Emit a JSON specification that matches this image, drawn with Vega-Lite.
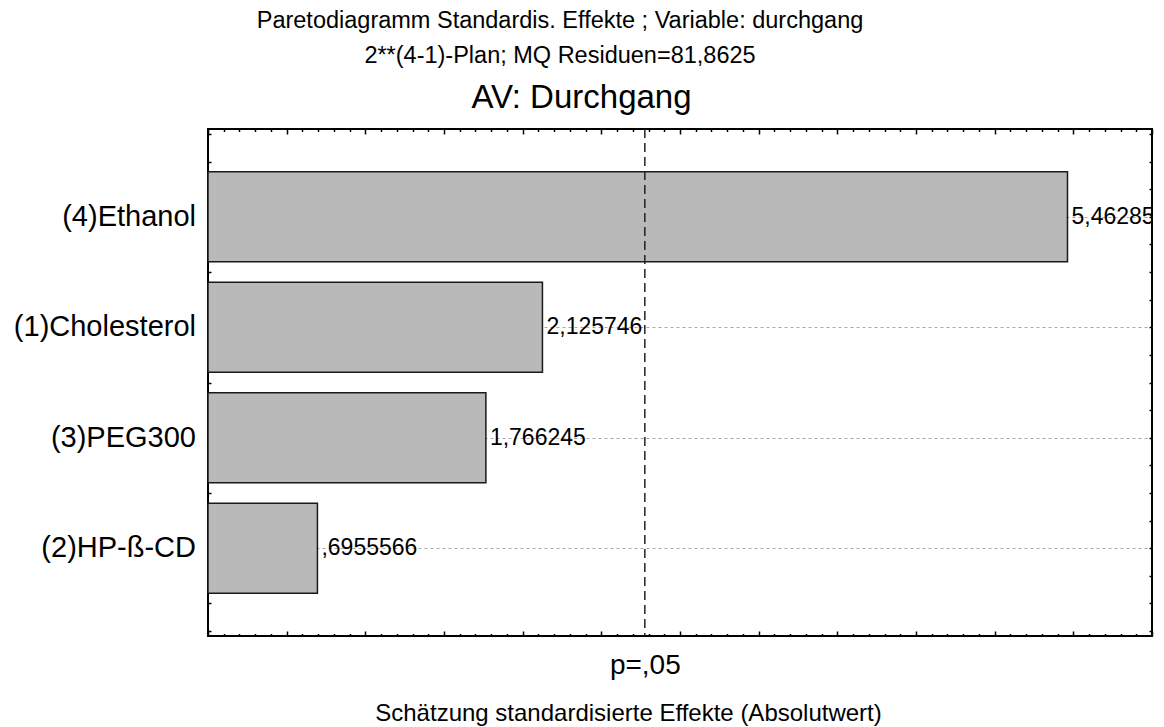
{
  "$schema": "https://vega.github.io/schema/vega-lite/v6.json",
  "width": 944,
  "height": 507,
  "autosize": {"type": "none"},
  "padding": {"left": 208, "top": 129, "right": 12, "bottom": 91},
  "background": "white",
  "datasets": {
    "effekte": [
      {"Effekt": "(4)Ethanol", "Wert": 5.46285, "Label": "5,46285"},
      {"Effekt": "(1)Cholesterol", "Wert": 2.125746, "Label": "2,125746"},
      {"Effekt": "(3)PEG300", "Wert": 1.766245, "Label": "1,766245"},
      {"Effekt": "(2)HP-ß-CD", "Wert": 0.6955566, "Label": ",6955566"}
    ],
    "grenze": [{"p_Grenze": 2.776445}]
  },
  "title": {
    "text": ["Paretodiagramm Standardis. Effekte ; Variable: durchgang", "2**(4-1)-Plan; MQ Residuen=81,8625"],
    "font": "Liberation Sans",
    "fontSize": 23.5,
    "fontWeight": "normal",
    "color": "#000000",
    "lineHeight": 35,
    "anchor": "middle",
    "frame": "group",
    "dx": -120,
    "offset": 14
  },
  "layer": [
    {
      "data": {"name": "effekte"},
      "transform": [{"window": [{"op": "row_number", "as": "Rang"}], "sort": [{"field": "Wert", "order": "descending"}]}],
      "mark": {"type": "bar", "orient": "horizontal", "height": 90, "fill": "#b9b9b9", "stroke": "#1a1a1a", "strokeWidth": 1.5},
      "encoding": {
        "x": {
          "field": "Wert", "type": "quantitative",
          "scale": {"domain": [0, 6], "nice": false, "zero": true},
          "axis": {
            "orient": "bottom",
            "values": [0,0.1,0.2,0.3,0.4,0.5,0.6,0.7,0.8,0.9,1,1.1,1.2,1.3,1.4,1.5,1.6,1.7,1.8,1.9,2,2.1,2.2,2.3,2.4,2.5,2.6,2.7,2.776445,2.8,2.9,3,3.1,3.2,3.3,3.4,3.5,3.6,3.7,3.8,3.9,4,4.1,4.2,4.3,4.4,4.5,4.6,4.7,4.8,4.9,5,5.1,5.2,5.3,5.4,5.5,5.6,5.7,5.8,5.9,6],
            "labelExpr": "abs(datum.value - 2.776445) < 0.0001 ? 'p=,05' : ''",
            "labelOverlap": false,
            "labelBound": false,
            "labelFlush": false,
            "labelFont": "Liberation Sans",
            "labelFontSize": 28,
            "labelColor": "#000000",
            "labelBaseline": "alphabetic",
            "labelPadding": 40,
            "domain": false,
            "grid": false,
            "tickColor": "#000000",
            "tickWidth": 1.5,
            "tickSize": {"condition": {"test": "abs(datum.value*2 - round(datum.value*2)) < 0.001", "value": -5}, "value": -2.5},
            "tickOpacity": {"condition": {"test": "abs(datum.value - 2.776445) < 0.0001", "value": 0}, "value": 1},
            "title": "Schätzung standardisierte Effekte (Absolutwert)",
            "titleFont": "Liberation Sans",
            "titleFontSize": 24,
            "titleFontWeight": "normal",
            "titleColor": "#000000",
            "titleX": 420,
            "titleY": 84,
            "titleBaseline": "alphabetic"
          }
        },
        "y": {
          "field": "Rang", "type": "quantitative",
          "scale": {"domain": [0.25, 4.75], "nice": false, "zero": false, "reverse": true},
          "axis": {
            "orient": "left",
            "values": [0.25,0.5,0.75,1,1.25,1.5,1.75,2,2.25,2.5,2.75,3,3.25,3.5,3.75,4,4.25,4.5,4.75],
            "labels": false,
            "domain": false,
            "tickColor": "#000000",
            "tickWidth": 1.5,
            "tickSize": -3,
            "grid": true,
            "gridColor": "#a8a8a8",
            "gridDash": [3, 3],
            "gridWidth": 1,
            "gridOpacity": {"condition": {"test": "abs(datum.value - round(datum.value)) < 0.001", "value": 1}, "value": 0},
            "title": null
          }
        }
      }
    },
    {
      "data": {"name": "grenze"},
      "mark": {"type": "rule", "stroke": "#222222", "strokeWidth": 1.5, "strokeDash": [9, 5]},
      "encoding": {
        "x": {"field": "p_Grenze", "type": "quantitative", "axis": null}
      }
    },
    {
      "data": {"name": "effekte"},
      "transform": [{"window": [{"op": "row_number", "as": "Rang"}], "sort": [{"field": "Wert", "order": "descending"}]}],
      "mark": {"type": "text", "align": "left", "baseline": "middle", "dx": 4, "font": "Liberation Sans", "fontSize": 23, "color": "#000000", "clip": true},
      "encoding": {
        "x": {
          "field": "Wert", "type": "quantitative",
          "axis": {
            "orient": "top",
            "values": [0,0.1,0.2,0.3,0.4,0.5,0.6,0.7,0.8,0.9,1,1.1,1.2,1.3,1.4,1.5,1.6,1.7,1.8,1.9,2,2.1,2.2,2.3,2.4,2.5,2.6,2.7,2.8,2.9,3,3.1,3.2,3.3,3.4,3.5,3.6,3.7,3.8,3.9,4,4.1,4.2,4.3,4.4,4.5,4.6,4.7,4.8,4.9,5,5.1,5.2,5.3,5.4,5.5,5.6,5.7,5.8,5.9,6],
            "labels": false,
            "domain": false,
            "grid": false,
            "tickColor": "#000000",
            "tickWidth": 1.5,
            "tickSize": {"condition": {"test": "abs(datum.value*2 - round(datum.value*2)) < 0.001", "value": -5}, "value": -2.5},
            "title": "AV: Durchgang",
            "titleFont": "Liberation Sans",
            "titleFontSize": 33,
            "titleFontWeight": "normal",
            "titleColor": "#000000",
            "titleX": 373,
            "titleY": -22,
            "titleBaseline": "alphabetic"
          }
        },
        "y": {
          "field": "Rang", "type": "quantitative",
          "axis": {
            "orient": "right",
            "values": [0.25,0.5,0.75,1,1.25,1.5,1.75,2,2.25,2.5,2.75,3,3.25,3.5,3.75,4,4.25,4.5,4.75],
            "labels": false,
            "domain": false,
            "grid": false,
            "tickColor": "#000000",
            "tickWidth": 1.5,
            "tickSize": -3,
            "title": null
          }
        },
        "text": {"field": "Label", "type": "nominal"}
      }
    },
    {
      "data": {"name": "effekte"},
      "transform": [{"window": [{"op": "row_number", "as": "Rang"}], "sort": [{"field": "Wert", "order": "descending"}]}],
      "mark": {"type": "text", "align": "right", "baseline": "middle", "dx": -12, "font": "Liberation Sans", "fontSize": 29, "color": "#000000"},
      "encoding": {
        "x": {"datum": 0, "type": "quantitative", "axis": null},
        "y": {"field": "Rang", "type": "quantitative", "axis": null},
        "text": {"field": "Effekt", "type": "nominal"}
      }
    }
  ],
  "resolve": {"axis": {"x": "independent", "y": "independent"}},
  "config": {
    "view": {"stroke": "#000000", "strokeWidth": 2},
    "font": "Liberation Sans"
  }
}
